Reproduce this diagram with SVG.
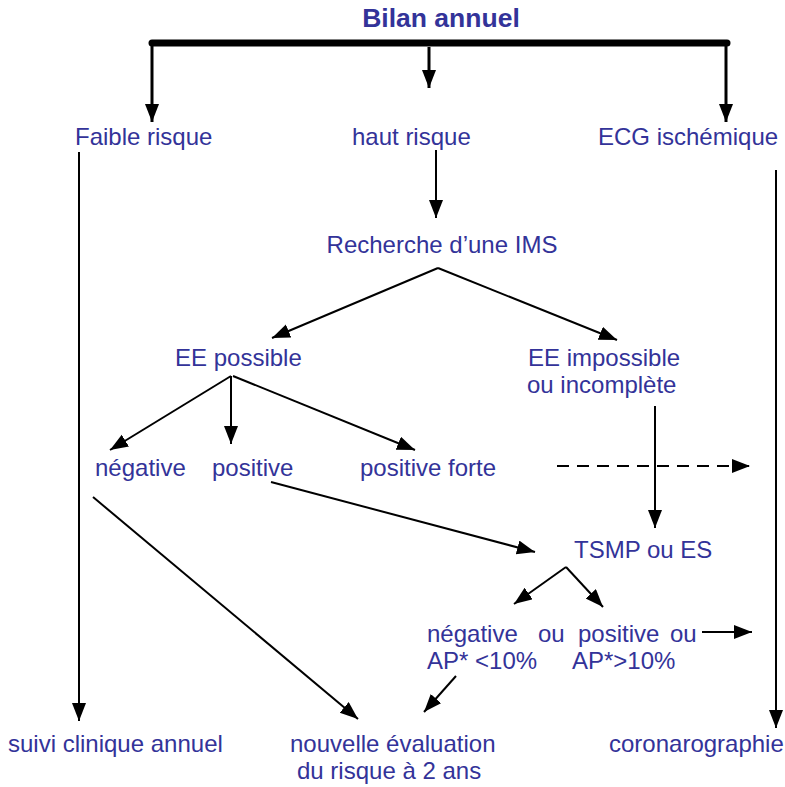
<svg xmlns="http://www.w3.org/2000/svg" width="785" height="787" viewBox="0 0 785 787">
<defs>
<marker id="ah" markerUnits="userSpaceOnUse" markerWidth="20" markerHeight="16" refX="18" refY="7" orient="auto">
<path d="M0,0 L18,7 L0,14 Z" fill="#000"/>
</marker>
<style>
text{font-family:"Liberation Sans",Arial,sans-serif;font-size:24px;fill:#333399}
.t{font-size:26.5px;font-weight:bold}
.c{stroke:#000;stroke-width:2;fill:none}
.b{stroke:#000;stroke-width:3;fill:none}
</style>
</defs>
<rect width="785" height="787" fill="#fff"/>
<g id="connectors">
<line x1="152" y1="43" x2="727" y2="43" stroke="#000" stroke-width="7" stroke-linecap="round"/>
<line class="b" x1="152" y1="43" x2="152" y2="122" marker-end="url(#ah)"/>
<line class="b" x1="429" y1="47" x2="429" y2="88" marker-end="url(#ah)"/>
<line class="b" x1="726" y1="43" x2="726" y2="122" marker-end="url(#ah)"/>
<line class="c" x1="79" y1="152" x2="79" y2="721" marker-end="url(#ah)"/>
<line class="c" x1="436" y1="150" x2="436" y2="218" marker-end="url(#ah)"/>
<line class="c" x1="776" y1="170" x2="776" y2="728" marker-end="url(#ah)"/>
<line class="c" x1="438" y1="268" x2="272" y2="338" marker-end="url(#ah)"/>
<line class="c" x1="438" y1="268" x2="617" y2="340" marker-end="url(#ah)"/>
<line class="c" x1="231" y1="376" x2="110" y2="450" marker-end="url(#ah)"/>
<line class="c" x1="231" y1="376" x2="231" y2="444" marker-end="url(#ah)"/>
<line class="c" x1="233" y1="376" x2="415" y2="450" marker-end="url(#ah)"/>
<line class="c" x1="655" y1="406" x2="655" y2="528" marker-end="url(#ah)"/>
<line class="c" x1="557" y1="466" x2="750" y2="466" stroke-dasharray="12,8" marker-end="url(#ah)"/>
<line class="c" x1="271" y1="482" x2="535" y2="552" marker-end="url(#ah)"/>
<line class="c" x1="93" y1="497" x2="358" y2="719" marker-end="url(#ah)"/>
<line class="c" x1="566" y1="567" x2="514" y2="604" marker-end="url(#ah)"/>
<line class="c" x1="566" y1="567" x2="603" y2="607" marker-end="url(#ah)"/>
<line class="c" x1="456" y1="676" x2="424" y2="712" marker-end="url(#ah)"/>
<line class="c" x1="702" y1="632" x2="752" y2="632" marker-end="url(#ah)"/>
</g>
<g id="bilan"><text class="t" x="441" y="27" text-anchor="middle">Bilan annuel</text></g>
<g id="faible"><text x="75" y="145">Faible risque</text></g>
<g id="haut"><text x="352" y="145">haut risque</text></g>
<g id="ecg"><text x="598" y="145">ECG ischémique</text></g>
<g id="recherche"><text x="442" y="253" text-anchor="middle">Recherche d’une IMS</text></g>
<g id="eepossible"><text x="175" y="366">EE possible</text></g>
<g id="eeimpossible"><text x="528" y="366">EE impossible</text><text x="527" y="393">ou incomplète</text></g>
<g id="negative"><text x="95" y="476">négative</text></g>
<g id="positive"><text x="212" y="476">positive</text></g>
<g id="positiveforte"><text x="360" y="476">positive forte</text></g>
<g id="tsmp"><text x="574" y="558">TSMP ou ES</text></g>
<g id="resultat">
<text x="427" y="642">négative</text><text x="538" y="642">ou</text><text x="578" y="642">positive</text><text x="670" y="642">ou</text>
<text x="427" y="669">AP* &lt;10%</text><text x="572" y="669">AP*&gt;10%</text>
</g>
<g id="suivi"><text x="8" y="752">suivi clinique annuel</text></g>
<g id="nouvelle"><text x="290" y="752">nouvelle évaluation</text><text x="297" y="779">du risque à 2 ans</text></g>
<g id="corono"><text x="609" y="752">coronarographie</text></g>
</svg>
